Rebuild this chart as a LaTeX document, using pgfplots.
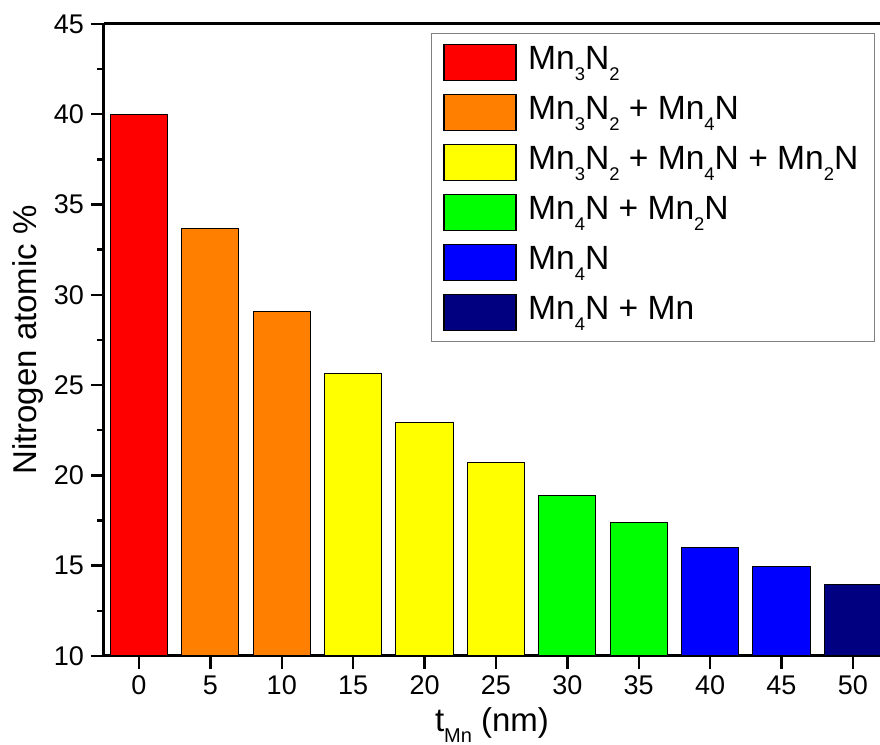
\documentclass[border=0pt]{standalone}
\usepackage{fontspec}
\setmainfont{Liberation Sans}
\usepackage{pgfplots}
\pgfplotsset{compat=1.18}
\usetikzlibrary{calc}
\definecolor{cRed}{RGB}{255,0,0}
\definecolor{cOrange}{RGB}{255,128,0}
\definecolor{cYellow}{RGB}{255,255,0}
\definecolor{cGreen}{RGB}{0,255,0}
\definecolor{cBlue}{RGB}{0,0,255}
\definecolor{cNavy}{RGB}{0,0,128}
\newcommand{\sub}[1]{\raisebox{-5.5pt}{\fontsize{9.2}{9}\selectfont #1}}
\newcommand{\xsub}[1]{\raisebox{-5.5pt}{\fontsize{10}{10}\selectfont #1}}
\begin{document}
\begin{tikzpicture}
\begin{axis}[
  name=ax,
  scale only axis, width=388pt, height=316pt,
  xmin=-2.45, xmax=51.9, ymin=10, ymax=45,
  axis x line*=box, axis y line*=left,
  axis line style={line width=1.5pt},
  xtick pos=bottom, ytick pos=left,
  tick align=outside,
  xtick={0,5,...,50}, ytick={10,15,...,45},
  minor y tick num=1,
  major tick length=6.5pt, minor tick length=3.5pt,
  every tick/.style={black, line width=1.2pt},
  /pgf/number format/assume math mode=true,
  ticklabel style={font=\fontsize{13.5}{15}\selectfont},
  ybar,
  bar width=4,
  ylabel={Nitrogen atomic \%},
  xlabel={t\xsub{Mn} (nm)},
  label style={font=\fontsize{16.5}{19}\selectfont},
  ylabel style={at={(axis description cs:-0.098,0.5)}, anchor=center, rotate=0},
  xlabel style={at={(axis description cs:0.5,-0.12)}, anchor=base},
  legend image code/.code={\draw[#1, draw=black, line width=0.6pt] (0pt,-9pt) rectangle (36pt,9pt); \path[draw=none, fill=none] (0pt,0pt) -- (40pt,0pt);},
  legend cell align=left,
  legend style={at={(axis description cs:0.421,0.986)}, anchor=north west,
    draw=gray, line width=0.8pt, inner xsep=6pt, inner ysep=3pt,
    font=\fontsize{16.8}{19}\selectfont, row sep=2pt,
    nodes={text height=13pt, text depth=6pt, inner ysep=2pt}},
]
\addplot[bar shift=0pt, fill=cRed, draw=black, line width=0.5pt] coordinates {(0,40.0)};
\addlegendentry{Mn\sub{3}N\sub{2}}
\addplot[bar shift=0pt, fill=cOrange, draw=black, line width=0.5pt] coordinates {(5,33.7) (10,29.1)};
\addlegendentry{Mn\sub{3}N\sub{2} + Mn\sub{4}N}
\addplot[bar shift=0pt, fill=cYellow, draw=black, line width=0.5pt] coordinates {(15,25.65) (20,22.93) (25,20.72)};
\addlegendentry{Mn\sub{3}N\sub{2} + Mn\sub{4}N + Mn\sub{2}N}
\addplot[bar shift=0pt, fill=cGreen, draw=black, line width=0.5pt] coordinates {(30,18.9) (35,17.37)};
\addlegendentry{Mn\sub{4}N + Mn\sub{2}N}
\addplot[bar shift=0pt, fill=cBlue, draw=black, line width=0.5pt] coordinates {(40,16.02) (45,14.95)};
\addlegendentry{Mn\sub{4}N}
\addplot[bar shift=0pt, fill=cNavy, draw=black, line width=0.5pt] coordinates {(50,13.98)};
\addlegendentry{Mn\sub{4}N + Mn}
\end{axis}
\pgfresetboundingbox
\path[use as bounding box] ($(ax.south west)+(-52pt,-44.5pt)$) rectangle ($(ax.north east)+(0pt,12pt)$);
\end{tikzpicture}
\end{document}
